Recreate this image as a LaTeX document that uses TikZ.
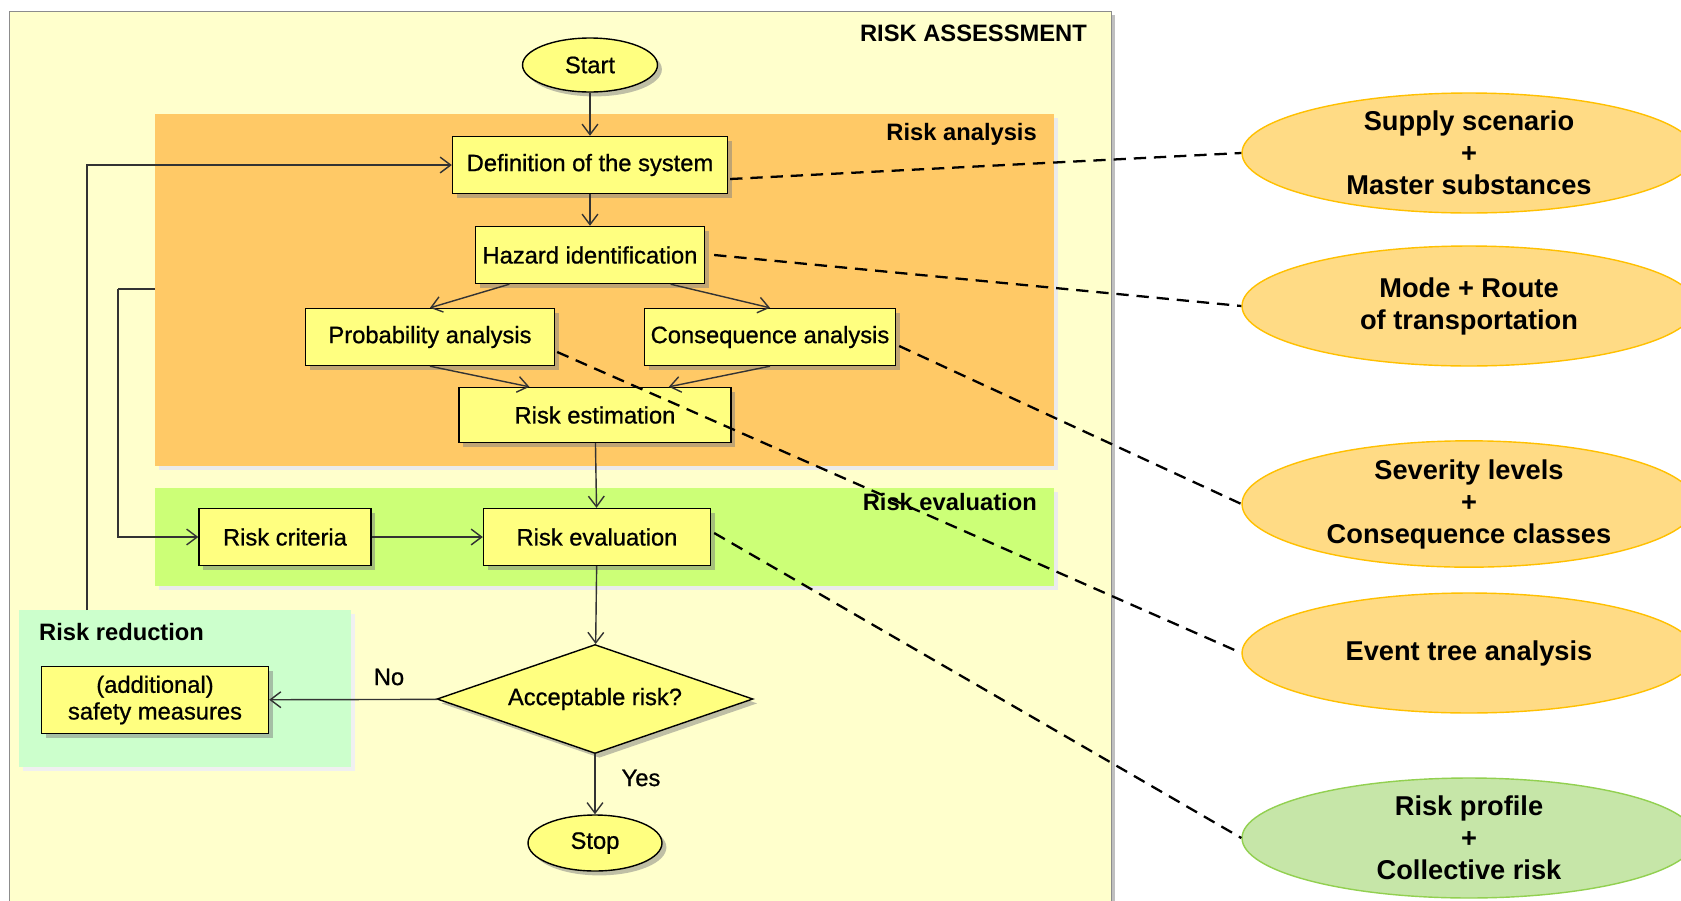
\documentclass[tikz,border=0pt]{standalone}
\usepackage{fontspec}
\setmainfont{Liberation Sans}
\newfontfamily\heavyfont[FakeBold=0.8]{Liberation Sans}
\usepackage{tikz}
\usetikzlibrary{arrows.meta,positioning,calc,shapes.geometric,shadows}
\definecolor{pale}{HTML}{FFFFCC}
\definecolor{analysis}{HTML}{FFC966}
\definecolor{evalband}{HTML}{CCFF77}
\definecolor{reduce}{HTML}{CCFFCC}
\definecolor{boxfill}{HTML}{FFFF80}
\definecolor{inorange}{HTML}{FFDB85}
\definecolor{inorangeedge}{HTML}{FFC000}
\definecolor{ingreen}{HTML}{C6E6A8}
\definecolor{ingreenedge}{HTML}{92D050}
\definecolor{linegray}{HTML}{333333}
\tikzset{
  boxshadow/.style={drop shadow={shadow xshift=2.5pt,shadow yshift=-2.5pt,opacity=0.5}},
  stepbox/.style={draw=black,fill=boxfill,line width=0.8pt,minimum height=1.14cm,inner sep=0pt,align=center,boxshadow},
  term/.style={ellipse,draw=black,fill=boxfill,line width=0.8pt,inner sep=0pt,boxshadow},
  decision/.style={diamond,draw=black,fill=boxfill,line width=0.8pt,inner sep=0pt,aspect=2.9,minimum width=6.32cm,minimum height=2.18cm,boxshadow},
  inbox/.style={ellipse,line width=0.8pt,minimum width=9.08cm,minimum height=2.4cm,inner sep=0pt,align=center,font=\fontsize{15.5}{18.2}\selectfont\bfseries},
  flow/.style={draw=linegray,line width=0.8pt,-{Straight Barb[length=6pt,width=9pt]}},
  plain/.style={draw=linegray,line width=0.8pt},
  link/.style={draw=black,line width=1.3pt,dash pattern=on 7pt off 4.5pt},
  bandlabel/.style={font=\fontsize{13.5}{15.2}\selectfont\bfseries}
}
\begin{document}
\begin{tikzpicture}[x=0.02cm,y=-0.02cm,font=\fontsize{13.5}{15.2}\selectfont\heavyfont]
    \useasboundingbox (0,0) rectangle (1681,900);
    \fill[white] (0,0) rectangle (1681,900);

    \fill[black!25] (13,15) rectangle (1115,910);
    \draw[fill=pale,draw=black!45] (9,11) rectangle (1111,910);
    \node[anchor=east,bandlabel] (assess) at (1093,33) {RISK ASSESSMENT};

    \fill[black!8] (159,118) rectangle (1058,470);
    \fill[analysis] (155,114) rectangle (1054,466);
    \node[anchor=east,bandlabel] (analab) at (1043,134) {Risk analysis};

    \fill[black!8] (159,492) rectangle (1058,590);
    \fill[evalband] (155,488) rectangle (1054,586);
    \node[anchor=east,bandlabel] (evallab) at (1043,502) {Risk evaluation};

    \fill[black!6] (23,614) rectangle (355,771);
    \fill[reduce] (19,610) rectangle (351,767);
    \node[anchor=west,bandlabel] (redlab) at (33,632) {Risk reduction};

    \node[term,minimum width=2.7cm,minimum height=1.08cm] (start) at (590,65) {Start};
    \node[stepbox,minimum width=5.5cm] (def) at (590,165) {Definition of the system};
    \node[stepbox,minimum width=4.58cm] (haz) at (590,255) {Hazard identification};
    \node[stepbox,minimum width=4.98cm] (prob) at (430,337) {Probability analysis};
    \node[stepbox,minimum width=5.02cm] (cons) at (770,337) {Consequence analysis};
    \node[stepbox,minimum width=5.44cm,minimum height=1.1cm] (est) at (595,415) {Risk estimation};
    \node[stepbox,minimum width=3.44cm] (crit) at (285,537) {Risk criteria};
    \node[stepbox,minimum width=4.54cm] (eval) at (597,537) {Risk evaluation};
    \node[decision] (accept) at (595,699) {Acceptable risk?};
    \node[stepbox,minimum width=4.54cm,minimum height=1.34cm] (safety) at (155,700) {(additional)\\safety measures};
    \node[term,minimum width=2.68cm,minimum height=1.12cm] (stop) at (595,843) {Stop};
    \node (no) at (389,677) {No};
    \node (yes) at (641,778) {Yes};

    \node[inbox,fill=inorange,draw=inorangeedge] (supply) at (1469,153) {Supply scenario\\+\\Master substances};
    \node[inbox,fill=inorange,draw=inorangeedge] (mode) at (1469,306) {Mode + Route\\of transportation};
    \node[inbox,fill=inorange,draw=inorangeedge] (sever) at (1469,504) {Severity levels\\+\\Consequence classes};
    \node[inbox,fill=inorange,draw=inorangeedge] (event) at (1469,653) {Event tree analysis};
    \node[inbox,fill=ingreen,draw=ingreenedge] (profile) at (1469,838) {Risk profile\\+\\Collective risk};

    \draw[flow] (start) -- (def);
    \draw[flow] (def) -- (haz);
    \draw[flow] ($(haz.south west)!0.15!(haz.south east)$) -- (prob.north);
    \draw[flow] ($(haz.south west)!0.85!(haz.south east)$) -- (cons.north);
    \draw[flow] (prob.south) -- ($(est.north west)!0.26!(est.north east)$);
    \draw[flow] (cons.south) -- ($(est.north west)!0.77!(est.north east)$);
    \draw[flow] (est) -- (eval);
    \draw[flow] (crit) -- (eval);
    \draw[flow] (eval) -- (accept);
    \draw[flow] (accept) -- (safety);
    \draw[flow] (accept) -- (stop);

    \coordinate (redtop) at (87,610);
    \draw[flow] (redtop) |- (def.west);
    \coordinate (anaedge) at (155,289);
    \coordinate (critbend) at (118,289);
    \draw[plain] (anaedge) -- (critbend);
    \draw[flow] (critbend) |- (crit.west);

    \draw[link] ($(def.east)+(2,14)$) -- (supply.west);
    \draw[link] ($(haz.east)+(9,0)$) -- (mode.west);
    \draw[link] ($(cons.east)+(3,9)$) -- (sever.west);
    \draw[link] ($(prob.east)+(2,15)$) -- (event.west);
    \draw[link] ($(eval.east)+(3,-4)$) -- (profile.west);
  \end{tikzpicture}
\end{document}
